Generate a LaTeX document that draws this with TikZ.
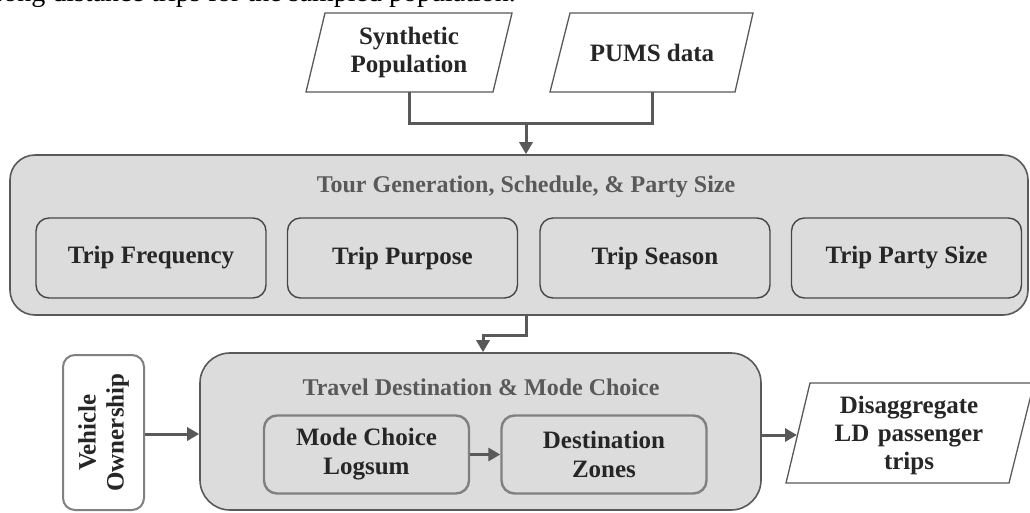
\documentclass[tikz,border=0pt]{standalone}
\usepackage{fontspec}
\setmainfont{Liberation Serif}
\usetikzlibrary{arrows.meta,calc}
\definecolor{dgray}{HTML}{595959}
\definecolor{mgray}{HTML}{808080}
\definecolor{boxfill}{HTML}{DCDCDC}
\definecolor{txt}{HTML}{262626}
\tikzset{
  outerbox/.style={draw=dgray,line width=1.6pt,fill=boxfill,rounded corners=25pt,inner sep=0pt},
  innerbox/.style={draw=dgray!80!black,line width=1.4pt,fill=boxfill,rounded corners=13pt,
    minimum width=230pt,minimum height=80pt,inner sep=0pt,
    font=\fontsize{25}{29}\selectfont\bfseries,text=txt,align=center},
  innerboxb/.style={draw=mgray,line width=2.4pt,fill=boxfill,rounded corners=13pt,
    minimum width=205pt,minimum height=78pt,inner sep=0pt,
    font=\fontsize{25}{29}\selectfont\bfseries,text=txt,align=center},
  title/.style={font=\fontsize{24}{28}\selectfont\bfseries,text=dgray},
  paratext/.style={font=\fontsize{25}{28}\selectfont\bfseries,text=txt,align=center,inner sep=0pt},
  para/.style={draw=dgray,line width=1.3pt,fill=white},
  conn/.style={draw=dgray,line width=3pt},
  arr/.style={conn,-{Triangle[length=12pt,width=13pt]}},
}
\begin{document}
\begin{tikzpicture}[x=1pt,y=-1pt]
\useasboundingbox (0,0) rectangle (1030,512);
\clip (0,0) rectangle (1030,512);
\fill[white] (0,0) rectangle (1030,512);
% clipped running text
\node[anchor=base west,inner sep=0pt,font=\fontsize{28}{32}\selectfont,text=black] (runtext) at (-14,1.5) {Long distance trips for the sampled population.};
% inputs
\draw[para] (325,13) -- (512,13) -- (493,92) -- (306,92) -- cycle;
\node[paratext,minimum height=79pt,minimum width=187pt] (syn) at (409,52.5) {Synthetic\\Population};
\draw[para] (570,13) -- (753,13) -- (735,92) -- (550,92) -- cycle;
\node[paratext,minimum height=79pt,minimum width=40pt] (pums) at (652,52.5) {PUMS data};
% tour box
\node[outerbox,minimum width=1018pt,minimum height=160pt] (tour) at (519,235) {};
\node[title] (tourt) at (526,187) {Tour Generation, Schedule, \& Party Size};
\node[innerbox] (freq) at (151,258) {Trip Frequency};
\node[innerbox] (purp) at (402.5,258) {Trip Purpose};
\node[innerbox] (seas) at (655,258) {Trip Season};
\node[innerbox] (party) at (906.5,258) {Trip Party Size};
% junction
\coordinate (jn) at (526,123);
\coordinate (pb) at (652,92);
\draw[conn] (syn.south) |- (jn) -| (pb);
\draw[arr] (jn) -- (tour.north -| jn);
% travel box
\node[outerbox,rounded corners=30pt,minimum width=561pt,minimum height=157pt] (trav) at (480.5,431.5) {};
\node[title] (travt) at (481,387) {Travel Destination \& Mode Choice};
\node[innerboxb] (mode) at (366.5,454.5) {Mode Choice\\Logsum};
\node[innerboxb] (dest) at (604,454.5) {Destination\\Zones};
\draw[arr] (mode.east) -- (dest.west);
% tour -> travel
\coordinate (t1) at (526,335);
\coordinate (t2) at (483,335);
\draw[arr] (tour.south -| t1) -- (t1) -- (t2) -- (trav.north -| t2);
% vehicle ownership
\node[draw=mgray,line width=2pt,fill=white,rounded corners=12pt,minimum width=81pt,minimum height=155pt,inner sep=0pt] (veh) at (103.5,432.5) {};
\node[rotate=90,paratext] (vehtxt) at (veh.center) {Vehicle\\Ownership};
\draw[arr] (veh.east |- 0,434) -- (trav.west |- 0,434);
% output
\draw[para] (810,383) -- (1034,383) -- (1009,483) -- (786,483) -- cycle;
\node[paratext,minimum height=100pt,minimum width=200pt,text width=200pt] (out) at (909,435) {Disaggregate\\LD passenger\\trips};
\draw[arr] (trav.east |- 0,435) -- (797,435);
\end{tikzpicture}
\end{document}
